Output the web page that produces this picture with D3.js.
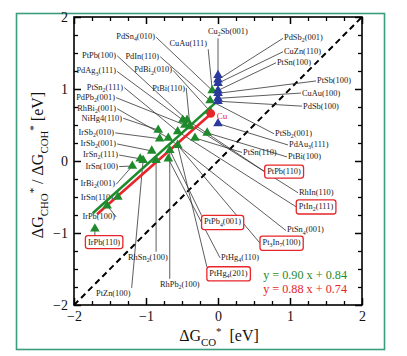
<!DOCTYPE html>
<html><head><meta charset="utf-8">
<script src="https://cdn.jsdelivr.net/npm/d3@7"></script>
<style>body{margin:0;background:#fff}svg{display:block}</style>
</head><body>
<script>
// ---------- data ----------
const greenX = [-1.71,-1.54,-1.39,-1.19,-1.08,-1.04,-0.92,-0.86,-0.83,-0.81,-0.69,-0.67,-0.69,-0.56,-0.56,-0.49,-0.43,-0.46,-0.32,-0.15,-0.11,-0.11,-0.08,-0.39];
const greenY = [-0.94,-0.62,-0.50,-0.07,0.03,0.01,0.14,0.01,0.43,0.31,0.32,0.15,0.03,0.41,0.22,0.57,0.57,0.50,0.32,0.39,0.69,0.84,0.98,0.48];
const blueX = [0,0,0,0,0,0,0,0];
const blueY = [1.19,1.13,1.08,0.98,0.94,0.87,0.83,0.52];
const cuX = [-0.10], cuY = [0.66];
const fitSlope = [0.90, 0.88];
const fitIntercept = [0.84, 0.74];
const fitFrom = [-1.74, -1.68];
const fitTo = [-0.04, -0.08];
const fitText = ["y = 0.90 x + 0.84", "y = 0.88 x + 0.74"];
const tickLabels = [-2,-1,0,1,2];
// labels: name, x, y (data units, baseline), target set, target index
const labelNames = ["PdSn_4(010)","CuAu(111)","PtPb(100)","PdIn(110)","PdAg_3(111)","PdBi_2(010)","PtSn_2(111)","PtBi(110)","PdPb_2(001)","RhBi_2(001)","NiHg4(110)","IrSb_2(010)","IrSb_2(001)","IrSn_2(111)","IrSn(100)","IrBi_2(001)","IrSn(110)","IrPb(100)","IrPb(110)",
 "RhSn_2(100)","RhPb_2(100)","PtZn(100)",
 "Cu_2Sb(001)","PdSb_2(001)","CuZn(110)","PtSn(100)","PtSb(100)","CuAu(100)","PdSb(100)",
 "PtSb_2(001)","PdAu_3(111)","PtBi(100)","PtSn(110)","PtPb(110)","RhIn(110)","PtIn_2(111)","PtSn_4(001)","Pt_3In_7(100)","PtPb_4(001)","PtHg_4(110)","PtHg_4(201)"];
const labelX = [-0.875,-0.153,-1.417,-0.819,-1.417,-0.639,-1.319,-0.458,-1.431,-1.417,-1.333,-1.444,-1.417,-1.389,-1.389,-1.431,-1.458,-1.431,-1.583,
 -1.25,-0.806,-1.694,
 -0.139,0.917,0.917,0.819,1.375,1.167,1.181,
 0.792,0.986,0.972,0.347,0.917,1.125,1.361,0.958,0.882,0.063,0.042,0.146];
const labelY = [1.692,1.594,1.427,1.413,1.217,1.231,0.993,0.979,0.853,0.699,0.559,0.364,0.210,0.056,-0.112,-0.350,-0.545,-0.811,-1.161,
 -1.371,-1.748,-1.874,
 1.762,1.678,1.483,1.329,1.077,0.909,0.727,
 0.352,0.196,0.022,0.084,-0.182,-0.476,-0.664,-0.993,-1.168,-0.881,-1.371,-1.594];
const labelTargetSet = ["g","g","g","g","g","g","g","g","g","g","g","g","g","g","g","g","g","g","g",
 "g","g","g",
 "b","b","b","b","b","b","b",
 "g","b","g","g","g","g","g","g","g","g","g","g"];
const labelTarget = [22,22,16,21,15,20,13,23,17,10,8,9,6,4,3,3,2,1,0,
 7,11,5,
 0,1,2,3,4,5,6,
 21,7,19,18,16,15,13,10,14,11,12,14];
const labelAnchor = ["end","end","end","end","end","end","end","end","end","end","end","end","end","end","end","end","end","end","middle",
 "start","start","start",
 "start","start","start","start","start","start","start",
 "start","start","start","start","middle","start","middle","start","middle","middle","start","middle"];
const labelSide = ["r","b","r","r","r","r","r","r","r","r","r","r","r","r","r","r","r","r","t",
 "t","t","t",
 "b","l","l","l","l","l","l",
 "l","l","l","l","l","l","l","l","l","t","l","t"];
const labelBoxed = ["IrPb(110)","PtPb(110)","PtIn_2(111)","Pt_3In_7(100)","PtPb_4(001)","PtHg_4(201)"];

// ---------- layout ----------
const W = 407, H = 356;
const serif = "'Liberation Serif','Times New Roman',Times,serif";
const svg = d3.select("body").append("svg").attr("width", W).attr("height", H);
svg.append("rect").attr("width", W).attr("height", H).attr("fill", "#fff");
svg.append("rect").attr("x", 16.5).attr("y", 13.5).attr("width", 368).attr("height", 336)
  .attr("fill", "none").attr("stroke", "#3a9e7e").attr("stroke-width", 1.6);

const x = d3.scaleLinear().domain([-2, 2]).range([74, 362]);
const y = d3.scaleLinear().domain([-2, 2]).range([305, 17]);

const minorVals = d3.range(-2, 2.001, 0.25).filter(v => Math.abs(v - Math.round(v)) > 1e-6);
function axes(gen, tr, labels) {
  const gMaj = svg.append("g").attr("transform", tr)
    .call(gen.tickValues(tickLabels).tickSize(-7).tickPadding(labels ? 6 : 0)
      .tickFormat(labels ? d3.format("d") : () => ""));
  gMaj.select(".domain").remove();
  gMaj.selectAll("line").attr("stroke", "#000").attr("stroke-width", 1.5);
  gMaj.selectAll("text").attr("font-family", serif).attr("font-size", 14).attr("fill", "#111");
  const gMin = svg.append("g").attr("transform", tr)
    .call(gen.tickValues(minorVals).tickSize(-4).tickFormat(() => ""));
  gMin.select(".domain").remove();
  gMin.selectAll("line").attr("stroke", "#000").attr("stroke-width", 1.3);
}
axes(d3.axisBottom(x), "translate(0,305)", true);
axes(d3.axisTop(x), "translate(0,17)", false);
axes(d3.axisLeft(y), "translate(74,0)", true);
axes(d3.axisRight(y), "translate(362,0)", false);

// diagonal y = x
svg.append("line").attr("x1", x(-2)).attr("y1", y(-2)).attr("x2", x(2)).attr("y2", y(2))
  .attr("stroke", "#000").attr("stroke-width", 2).attr("stroke-dasharray", "6,4");

// rich text helper (subscripts via "_")
function rich(t, str, size) {
  const parts = str.split(/(_\w)/);
  let shift = 0;
  parts.forEach(p => {
    if (!p) return;
    const sub = p[0] === "_";
    const tgt = sub ? size * 0.26 : 0;
    const ts = t.append("tspan").attr("dy", tgt - shift).text(sub ? p.slice(1) : p);
    if (sub) ts.attr("font-size", size * 0.7);
    shift = tgt;
  });
}

// labels + leader lines
const LS = 8.4;
const leaderG = svg.append("g");
const labelG = svg.append("g");
const pts = { g: greenX.map((v, i) => [x(v), y(greenY[i])]), b: blueX.map((v, i) => [x(v), y(blueY[i])]) };
labelNames.forEach((name, i) => {
  const t = labelG.append("text").attr("x", x(labelX[i])).attr("y", y(labelY[i]))
    .attr("text-anchor", labelAnchor[i]).attr("font-family", serif).attr("font-size", LS).attr("fill", "#222");
  rich(t, name, LS);
  const bb = t.node().getBBox();
  const tp = pts[labelTargetSet[i]][labelTarget[i]];
  const boxed = labelBoxed.includes(name);
  const pad = boxed ? 2.5 : 1;
  const L = bb.x - pad, R = bb.x + bb.width + pad, T = bb.y - pad + (boxed ? 0.5 : 0), B = bb.y + bb.height + pad - (boxed ? 0.5 : 0);
  if (boxed) {
    labelG.insert("rect", "text").attr("x", L).attr("y", T).attr("width", R - L).attr("height", B - T)
      .attr("rx", 2.5).attr("fill", "#fff").attr("stroke", "#e8252a").attr("stroke-width", 1.3);
  }
  const cy = (T + B) / 2, clampX = Math.max(L, Math.min(R, tp[0]));
  let s;
  switch (labelSide[i]) {
    case "r": s = [R, cy]; break;
    case "l": s = [L, cy]; break;
    case "t": s = [clampX, T]; break;
    default: s = [clampX, B];
  }
  leaderG.append("line").attr("x1", s[0]).attr("y1", s[1]).attr("x2", tp[0]).attr("y2", tp[1])
    .attr("stroke", "#333").attr("stroke-width", 0.8);
});

// fit lines
const fitColors = ["#1e8c2e", "#e8252a"];
fitSlope.forEach((m, i) => {
  svg.append("line")
    .attr("x1", x(fitFrom[i])).attr("y1", y(m * fitFrom[i] + fitIntercept[i]))
    .attr("x2", x(fitTo[i])).attr("y2", y(m * fitTo[i] + fitIntercept[i]))
    .attr("stroke", fitColors[i]).attr("stroke-width", 2.6);
});

// markers
const tri = d3.symbol().type(d3.symbolTriangle).size(40);
svg.append("g").selectAll("path").data(greenX).join("path")
  .attr("d", tri).attr("transform", (d, i) => `translate(${x(d)},${y(greenY[i])})`).attr("fill", "#1f8a2b");
svg.append("g").selectAll("path").data(blueX).join("path")
  .attr("d", tri).attr("transform", (d, i) => `translate(${x(d)},${y(blueY[i])})`).attr("fill", "#2a3a9c");
svg.append("g").selectAll("circle").data(cuX).join("circle")
  .attr("cx", d => x(d)).attr("cy", (d, i) => y(cuY[i])).attr("r", 4.3).attr("fill", "#e8252a");
svg.append("text").attr("x", x(cuX[0]) + 6).attr("y", y(cuY[0]) + 6).attr("font-family", serif)
  .attr("font-size", 9).attr("fill", "#e8252a").text("Cu");

// equations
fitText.forEach((s, i) => {
  svg.append("text").attr("x", 347).attr("y", 279 + i * 14).attr("text-anchor", "end")
    .attr("font-family", serif).attr("font-size", 12.2).attr("fill", fitColors[i]).text(s);
});

// axis titles
function title(t, parts, size) {
  let shift = 0;
  parts.forEach(([txt, kind]) => {
    const tgt = kind === "sub" ? size * 0.3 : kind === "sup" ? -size * 0.35 : 0;
    const ts = t.append("tspan").attr("dy", tgt - shift).text(txt);
    if (kind) ts.attr("font-size", size * 0.68);
    shift = tgt;
  });
}
const xt = svg.append("text").attr("x", 219).attr("y", 341).attr("text-anchor", "middle")
  .attr("font-family", serif).attr("font-size", 16).attr("fill", "#111").attr("xml:space", "preserve");
title(xt, [["ΔG", ""], ["CO", "sub"], ["*", "sup"], ["  [eV]", ""]], 16);
const yt = svg.append("text").attr("transform", "translate(43,165) rotate(-90)").attr("text-anchor", "middle")
  .attr("font-family", serif).attr("font-size", 16).attr("fill", "#111");
title(yt, [["ΔG", ""], ["CHO", "sub"], ["*", "sup"], [" / ΔG", ""], ["COH", "sub"], ["*", "sup"], [" [eV]", ""]], 16);

// plot box
svg.append("rect").attr("x", 74).attr("y", 17).attr("width", 288).attr("height", 288)
  .attr("fill", "none").attr("stroke", "#000").attr("stroke-width", 1.6);
</script>
</body></html>
